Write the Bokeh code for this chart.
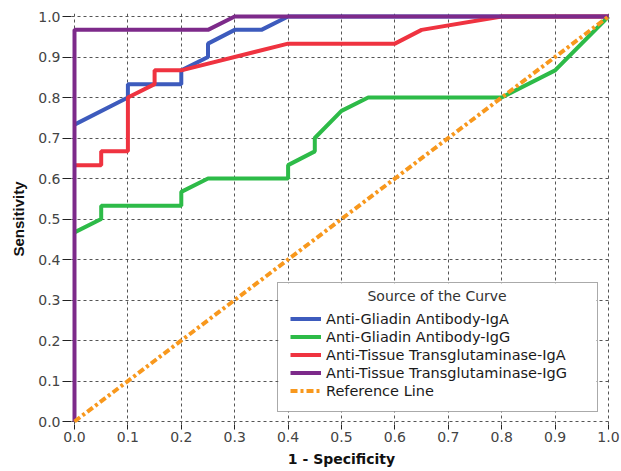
from bokeh.plotting import figure
from bokeh.models import (Legend, LegendItem, Range1d, FixedTicker, Label,
                          CustomJSTickFormatter, BoxAnnotation)
from bokeh.embed import file_html
from bokeh.resources import INLINE

# ---- data (1 - specificity, sensitivity) ----
aga_iga_x = [0.0, 0.1, 0.1, 0.2, 0.2, 0.25, 0.25, 0.3, 0.35, 0.4, 1.0]
aga_iga_y = [0.733, 0.8, 0.833, 0.833, 0.867, 0.9, 0.933, 0.967, 0.967, 1.0, 1.0]

aga_igg_x = [0.0, 0.05, 0.05, 0.2, 0.2, 0.25, 0.4, 0.4, 0.45, 0.45, 0.5, 0.55, 0.8, 0.9, 1.0]
aga_igg_y = [0.467, 0.5, 0.533, 0.533, 0.567, 0.6, 0.6, 0.633, 0.667, 0.7, 0.767, 0.8, 0.8, 0.867, 1.0]

ttg_iga_x = [0.0, 0.05, 0.05, 0.1, 0.1, 0.15, 0.15, 0.2, 0.4, 0.6, 0.65, 0.8, 1.0]
ttg_iga_y = [0.633, 0.633, 0.667, 0.667, 0.8, 0.833, 0.867, 0.867, 0.933, 0.933, 0.967, 1.0, 1.0]

ttg_igg_x = [0.0, 0.0, 0.25, 0.3, 1.0]
ttg_igg_y = [0.0, 0.967, 0.967, 1.0, 1.0]

ref_x = [0.0, 1.0]
ref_y = [0.0, 1.0]

tick_values = [0.0, 0.1, 0.2, 0.3, 0.4, 0.5, 0.6, 0.7, 0.8, 0.9, 1.0]

series_names = ["Anti-Gliadin Antibody-IgA", "Anti-Gliadin Antibody-IgG",
                "Anti-Tissue Transglutaminase-IgA", "Anti-Tissue Transglutaminase-IgG",
                "Reference Line"]
legend_title = "Source of the Curve"
colors = ["#3D5BBD", "#2DBB48", "#EF3340", "#7D2A8A", "#F8981D"]

FONT = "DejaVu Sans"

padx = 3 / 534
pady = 3 / 405

p = figure(frame_width=540, frame_height=411,
           x_range=Range1d(-padx, 1 + padx), y_range=Range1d(-pady, 1 + pady),
           output_backend="svg", toolbar_location=None,
           min_border_left=71, min_border_right=10, min_border_top=13, min_border_bottom=47,
           background_fill_color="white", border_fill_color="white")
p.outline_line_color = None

fmt = CustomJSTickFormatter(code="return tick.toFixed(1);")
for ax in (p.xaxis[0], p.yaxis[0]):
    ax.ticker = FixedTicker(ticks=tick_values)
    ax.formatter = fmt
    ax.minor_tick_line_color = None
    ax.axis_line_color = None
    ax.major_tick_line_color = "#222222"
    ax.major_tick_line_width = 1
    ax.major_tick_in = 0
    ax.major_label_text_font = FONT
    ax.major_label_text_font_size = "14px"
    ax.major_label_text_color = "#444444"
    ax.axis_label_text_font_style = "bold"
    ax.axis_label_text_color = "#111111"

p.xaxis[0].axis_label_text_font = FONT
p.xaxis[0].axis_label_text_font_size = "14px"
p.yaxis[0].axis_label_text_font = "Liberation Sans"
p.yaxis[0].axis_label_text_font_size = "15px"

p.xaxis[0].major_tick_out = 5
p.xaxis[0].major_label_standoff = 2
p.xaxis[0].axis_label_standoff = 6
p.yaxis[0].major_tick_out = 9
p.yaxis[0].major_label_standoff = 2
p.yaxis[0].axis_label_standoff = 8
p.xaxis[0].axis_label = "1 - Specificity"
p.yaxis[0].axis_label = "Sensitivity"

for g in (p.xgrid[0], p.ygrid[0]):
    g.ticker = FixedTicker(ticks=tick_values)
    g.grid_line_color = "#555555"
    g.grid_line_dash = "3 3"
    g.grid_line_width = 1

r1 = p.line(aga_iga_x, aga_iga_y, line_color=colors[0], line_width=4)
r2 = p.line(aga_igg_x, aga_igg_y, line_color=colors[1], line_width=4)
r3 = p.line(ttg_iga_x, ttg_iga_y, line_color=colors[2], line_width=4)
r4 = p.line(ttg_igg_x, ttg_igg_y, line_color=colors[3], line_width=4)
r5 = p.line(ref_x, ref_y, line_color=colors[4], line_width=4, line_dash="7 3 3 3")

# opaque white panel behind the legend (legend itself is transparent)
panel = BoxAnnotation(left=0.382, right=0.977, bottom=0.024, top=0.341,
                      fill_color="white", fill_alpha=1, line_color=None)
p.add_layout(panel)

title_label = Label(x=0.679, y=0.309, text=legend_title, text_align="center",
                    text_baseline="middle", text_font=FONT, text_font_size="14px",
                    text_color="#333333")
p.add_layout(title_label)

legend = Legend(items=[LegendItem(label=n, renderers=[r]) for n, r in
                       zip(series_names, [r1, r2, r3, r4, r5])],
                location=(206, 12), title=legend_title)
legend.title_text_font = FONT
legend.title_text_font_size = "13px"
legend.title_text_font_style = "normal"
legend.title_text_alpha = 0  # space reserved; centred title drawn by the Label
legend.title_standoff = 0
legend.label_text_font = FONT
legend.label_text_font_size = "14.5px"
legend.label_text_color = "#1a1a1a"
legend.label_height = 17
legend.label_width = 259
legend.glyph_height = 17
legend.glyph_width = 31
legend.label_standoff = 5
legend.spacing = 1
legend.padding = 12
legend.margin = 0
legend.border_line_color = "#555555"
legend.border_line_width = 1.5
legend.background_fill_alpha = 0
p.add_layout(legend, "center")

open("out.html", "w").write(file_html(p, INLINE))
